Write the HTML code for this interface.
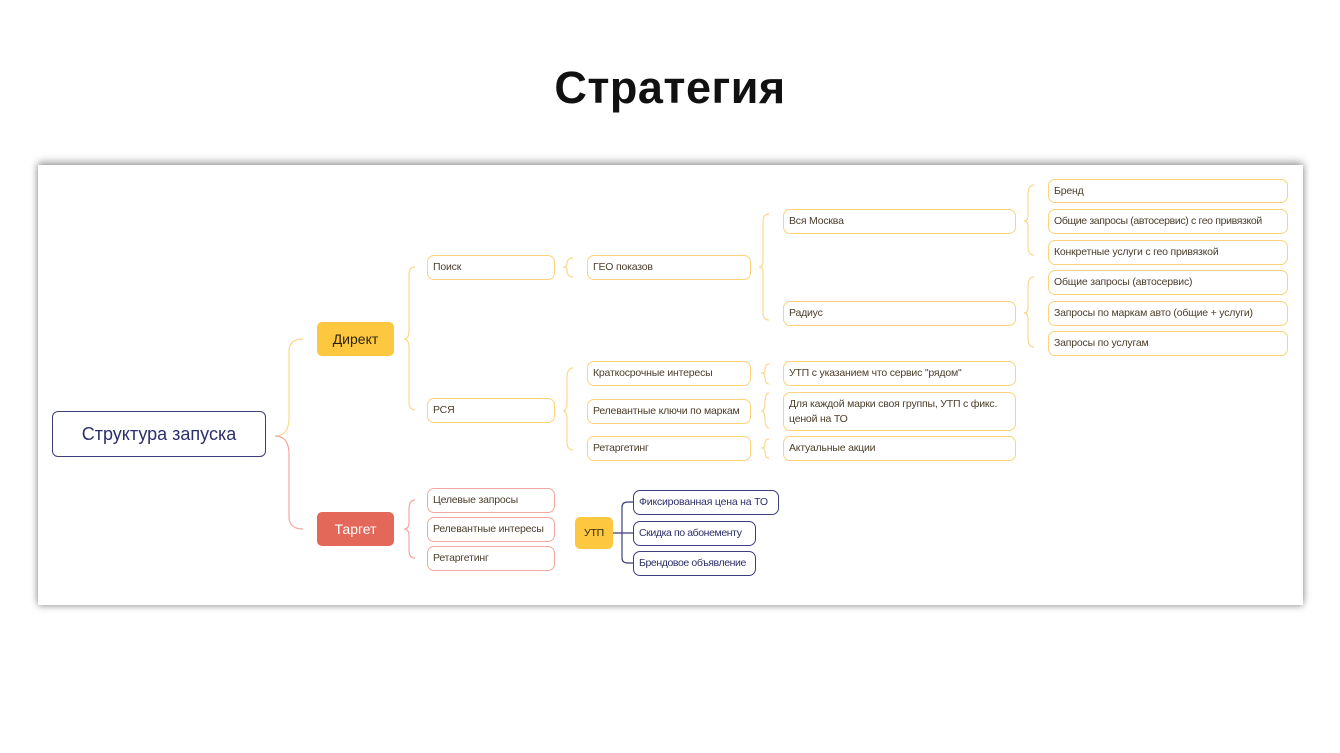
<!DOCTYPE html>
<html><head><meta charset="utf-8"><style>
*{margin:0;padding:0;box-sizing:border-box}
body{width:1340px;height:753px;background:#fff;position:relative;overflow:hidden;font-family:"Liberation Sans",sans-serif}
.title{position:absolute;left:0;width:1340px;top:62px;text-align:center;font-size:45px;font-weight:bold;color:#111;letter-spacing:0.5px}
.card{position:absolute;left:38px;top:165px;width:1265px;height:440px;background:#fff;box-shadow:0 -3px 8px rgba(0,0,0,.35),0 2px 6px rgba(0,0,0,.25)}
.n{position:absolute;border:1.3px solid #fcd37a;border-radius:7px;font-size:10.5px;letter-spacing:-0.2px;white-space:nowrap;color:#4a3e2c;padding-left:5px;display:flex;align-items:center;line-height:15px;background:#fff}
.w{white-space:normal}
.p{border-color:#f2a8a0}
.b{border-color:#3d3f7c;color:#2d2f6a}
svg{position:absolute;left:0;top:0}
</style></head><body>
<div class="title">Стратегия</div>
<div class="card"></div>
<svg width="1340" height="753" fill="none" stroke-width="1.2">
<g stroke="#fcd88c">
<path d="M275 436 Q288 436 289 420 L289 350 Q290 339 303 339"/>
<path d="M404 339 Q409 339 409 330 L409 275 Q409 267 415 267 M404 339 Q409 339 409 348 L409 402 Q409 410 415 410"/>
<path d="M573 258 Q567 258 567 264 Q567 267 563 267 Q567 267 567 270 Q567 277 573 277"/>
<path d="M769 214 Q763 214 763 222 L763 262 Q763 267 759 267 Q763 267 763 272 L763 312 Q763 320 769 320"/>
<path d="M1034 185 Q1028 185 1028 195 L1028 215 Q1028 221 1024 221 Q1028 221 1028 227 L1028 247 Q1028 255 1034 255"/>
<path d="M1034 277 Q1028 277 1028 287 L1028 307 Q1028 313 1024 313 Q1028 313 1028 319 L1028 339 Q1028 347 1034 347"/>
<path d="M573 368 Q567 368 567 378 L567 403 Q567 411 563 411 Q567 411 567 419 L567 442 Q567 450 573 450"/>
<path d="M769 364 Q765 364 765 370 Q765 373 761 373 Q765 373 765 377 Q765 384 769 384"/>
<path d="M769 393 Q765 393 765 403 Q765 411 761 411 Q765 411 765 419 Q765 428 769 428"/>
<path d="M769 439 Q765 439 765 444 Q765 448 761 448 Q765 448 765 452 Q765 458 769 458"/>
</g>
<g stroke="#f2a8a0">
<path d="M275 436 Q288 436 289 452 L289 518 Q290 529 303 529"/>
<path d="M415 500 Q409 500 409 510 L409 522 Q409 529 404 529 Q409 529 409 536 L409 550 Q409 558 415 558"/>
</g>
<g stroke="#3d3f7c">
<path d="M612 533 L633 533 M622 533 L622 507 Q622 502 628 502 L633 502 M622 533 L622 558 Q622 563 628 563 L633 563"/>
</g>
</svg>
<div class="n b" style="left:52px;top:411px;width:214px;height:46px;font-size:18px;letter-spacing:0;justify-content:center;padding:0;border-radius:6px">Структура запуска</div>
<div class="n" style="left:317px;top:322px;width:77px;height:34px;background:#fdc840;border-color:#fdc840;font-size:14px;letter-spacing:0;color:#2b2210;justify-content:center;padding:0;border-radius:5px">Директ</div>
<div class="n" style="left:317px;top:512px;width:77px;height:34px;background:#e4685a;border-color:#e4685a;font-size:14px;letter-spacing:0;color:#fff;justify-content:center;padding:0;border-radius:5px">Таргет</div>
<div class="n" style="left:427px;top:255px;width:128px;height:25px">Поиск</div>
<div class="n" style="left:427px;top:398px;width:128px;height:25px">РСЯ</div>
<div class="n p" style="left:427px;top:488px;width:128px;height:25px">Целевые запросы</div>
<div class="n p" style="left:427px;top:517px;width:128px;height:25px">Релевантные интересы</div>
<div class="n p" style="left:427px;top:546px;width:128px;height:25px">Ретаргетинг</div>
<div class="n" style="left:587px;top:255px;width:164px;height:25px">ГЕО показов</div>
<div class="n" style="left:587px;top:361px;width:164px;height:25px">Краткосрочные интересы</div>
<div class="n" style="left:587px;top:399px;width:164px;height:25px">Релевантные ключи по маркам</div>
<div class="n" style="left:587px;top:436px;width:164px;height:25px">Ретаргетинг</div>
<div class="n" style="left:783px;top:209px;width:233px;height:25px">Вся Москва</div>
<div class="n" style="left:783px;top:301px;width:233px;height:25px">Радиус</div>
<div class="n" style="left:783px;top:361px;width:233px;height:25px">УТП с указанием что сервис "рядом"</div>
<div class="n w" style="left:783px;top:392px;width:233px;height:39px">Для каждой марки своя группы, УТП с фикс.<br>ценой на ТО</div>
<div class="n" style="left:783px;top:436px;width:233px;height:25px">Актуальные акции</div>
<div class="n" style="left:1048px;top:179px;width:240px;height:24px">Бренд</div>
<div class="n" style="left:1048px;top:209px;width:240px;height:25px;letter-spacing:-0.35px">Общие запросы (автосервис) с гео привязкой</div>
<div class="n" style="left:1048px;top:240px;width:240px;height:25px">Конкретные услуги с гео привязкой</div>
<div class="n" style="left:1048px;top:270px;width:240px;height:25px">Общие запросы (автосервис)</div>
<div class="n" style="left:1048px;top:301px;width:240px;height:25px">Запросы по маркам авто (общие + услуги)</div>
<div class="n" style="left:1048px;top:331px;width:240px;height:25px">Запросы по услугам</div>
<div class="n" style="left:575px;top:517px;width:38px;height:32px;background:#fdc840;border-color:#fdc840;justify-content:center;padding:0;color:#2b2210;border-radius:5px">УТП</div>
<div class="n b" style="left:633px;top:490px;width:146px;height:25px">Фиксированная цена на ТО</div>
<div class="n b" style="left:633px;top:521px;width:123px;height:25px;letter-spacing:-0.4px">Скидка по абонементу</div>
<div class="n b" style="left:633px;top:551px;width:123px;height:25px;letter-spacing:-0.4px">Брендовое объявление</div>
</body></html>
